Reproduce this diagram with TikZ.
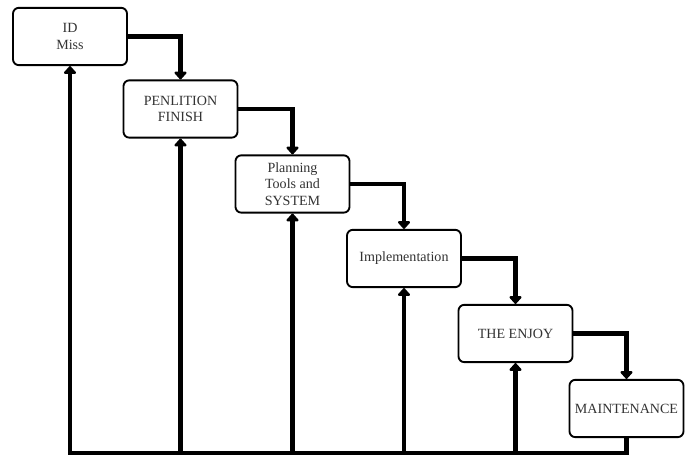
\documentclass[tikz,border=0pt]{standalone}
\usepackage{fontspec}
\setmainfont{Liberation Serif}
\usetikzlibrary{arrows.meta}

\begin{document}
\begin{tikzpicture}
  [x=0.03cm, y=-0.03cm,
   stage/.style={draw, line width=1.6pt, rounded corners=5pt, fill=white,
     minimum width=3.42cm, minimum height=1.72cm, align=center,
     font=\fontsize{12}{14}\selectfont, text=black!80},
   flow/.style={line width=4.2pt, line join=miter, -{Triangle[round,length=7pt,width=12pt]}}]
  \useasboundingbox (0,0) rectangle (691,459);
  \node[stage] (idm)   at (70,36.5)    {ID\\Miss};
  \node[stage] (pen)   at (180.5,109)  {PENLITION\\FINISH};
  \node[stage] (plan)  at (292.5,184)  {Planning\\Tools and\\SYSTEM};
  \node[stage] (impl)  at (404,258.5)  {Implementation};
  \node[stage] (enjoy) at (515.5,333.5) {THE ENJOY};
  \node[stage] (maint) at (626.5,408.5) {MAINTENANCE};
  \coordinate (base) at (70,453);
  % steps down
  \draw[flow] (idm.east) -| (pen.north);
  \draw[flow] (pen.east) -| (plan.north);
  \draw[flow] (plan.east) -| (impl.north);
  \draw[flow] (impl.east) -| (enjoy.north);
  \draw[flow] (enjoy.east) -| (maint.north);
  % feedback along the bottom
  \draw[flow] (maint.south) |- (base) -- (idm.south);
  \foreach \n in {pen,plan,impl,enjoy}
    \draw[flow] (\n.south |- base) -- (\n.south);
\end{tikzpicture}
\end{document}
